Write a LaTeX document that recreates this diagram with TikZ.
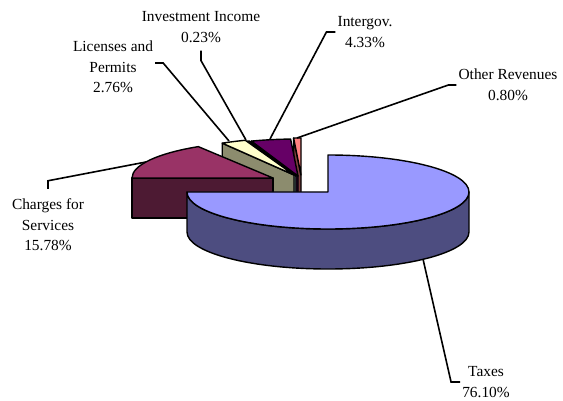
\documentclass[tikz,border=0pt]{standalone}
\usepackage{fontspec}
\setmainfont{Liberation Serif}
\usepackage{tikz}
\usetikzlibrary{calc, positioning}
\definecolor{taxtop}{HTML}{9999FF}
\definecolor{taxside}{HTML}{4D4D80}
\definecolor{chgtop}{HTML}{993366}
\definecolor{chgside}{HTML}{4D1A33}
\definecolor{lictop}{HTML}{FFFFCC}
\definecolor{licside}{HTML}{8C8C6E}
\definecolor{invtop}{HTML}{CCFFFF}
\definecolor{invside}{HTML}{668080}
\definecolor{igvtop}{HTML}{660066}
\definecolor{igvside}{HTML}{330033}
\definecolor{othtop}{HTML}{FF8080}
\definecolor{othside}{HTML}{804040}
\tikzset{
	lbl/.style={align=center, inner sep=2pt, font=\fontsize{15.4}{20.5}\selectfont},
	face/.style={line width=1.4pt, line join=round},
	leader/.style={line width=1.6pt}
}

\begin{document}
\begin{tikzpicture}[x=1pt,y=-1pt]
		\useasboundingbox (0,0) rectangle (563,401);
		
		\coordinate(othc) at (301,175);
		\coordinate(igvc) at (298,176);
		\coordinate(invc) at (296,176);
		\coordinate(licc) at (294,175);
		\coordinate(chgc) at (273,178);
		\coordinate(taxc) at (328,192);
		
		% back slices first
		\filldraw[face, fill=othside] (othc) -- ($(othc)+(267:141 and 37)$) -- ++(0,40) -- ($(othc)+(0,40)$) -- cycle;
		\filldraw[face, fill=othtop] (othc) -- ($(othc)+(267:141 and 37)$) arc[start angle=267, end angle=270, x radius=141, y radius=37] -- cycle;
		
		\filldraw[face, fill=igvside] (igvc) -- ($(igvc)+(250.7:141 and 37)$) -- ++(0,40) -- ($(igvc)+(0,40)$) -- cycle;
		\filldraw[face, fill=igvtop] (igvc) -- ($(igvc)+(250.7:141 and 37)$) arc[start angle=250.7, end angle=267, x radius=141, y radius=37] -- cycle;
		
		\filldraw[face, fill=invside] (invc) -- ($(invc)+(249.8:141 and 37)$) -- ++(0,40) -- ($(invc)+(0,40)$) -- cycle;
		\filldraw[face, fill=invtop] (invc) -- ($(invc)+(249.8:141 and 37)$) arc[start angle=249.8, end angle=250.7, x radius=141, y radius=37] -- cycle;
		
		\filldraw[face, fill=licside] (licc) -- ($(licc)+(239.4:141 and 37)$) -- ++(0,40) -- ($(licc)+(0,40)$) -- cycle;
		\filldraw[face, fill=lictop] (licc) -- ($(licc)+(239.4:141 and 37)$) arc[start angle=239.4, end angle=249.8, x radius=141, y radius=37] -- cycle;
		
		\filldraw[face, fill=chgside] (chgc) -- ($(chgc)+(180:141 and 37)$) -- ++(0,40) -- ($(chgc)+(0,40)$) -- cycle;
		\filldraw[face, fill=chgtop] (chgc) -- ($(chgc)+(180:141 and 37)$) arc[start angle=180, end angle=238, x radius=141, y radius=37] -- cycle;
		
		% taxes in front
		\filldraw[face, fill=taxside] ($(taxc)+(180:141 and 37)$) -- ++(0,40) arc[start angle=180, end angle=0, x radius=141, y radius=37] -- ++(0,-40) arc[start angle=0, end angle=180, x radius=141, y radius=37] -- cycle;
		\filldraw[face, fill=taxtop] (taxc) -- ++(0,-37) arc[start angle=270, end angle=540, x radius=141, y radius=37] -- cycle;
		
		% labels
		\node(taxes) [lbl] at (486,382) {Taxes\\76.10\%};
		\node(chg) [lbl] at (48,225) {Charges for\\Services\\15.78\%};
		\node(lic) [lbl] at (113,67) {Licenses and\\Permits\\2.76\%};
		\node(inv) [lbl] at (201,27) {Investment Income\\0.23\%};
		\node(igv) [lbl] at (365,32) {Intergov.\\4.33\%};
		\node(oth) [lbl] at (508,85) {Other Revenues\\0.80\%};
		
		\coordinate(taxend) at (423,259);
		\coordinate(chgend) at (146,162);
		\coordinate(licend) at (229,141);
		\coordinate(invend) at (246,140);
		\coordinate(igvend) at (270,139);
		\coordinate(othend) at (297,138);
		
		\draw[leader] (taxes.west) -- ++(-9,0) -- (taxend);
		\draw[leader] ([yshift=8pt]chg.north) -- ++(0,-8) -- (chgend);
		\draw[leader] ([yshift=4pt]lic.east) -- ++(8,0) -- (licend);
		\draw[leader] ([yshift=-6pt]inv.south) -- ++(0,10) -- (invend);
		\draw[leader] (igv.west) -- ++(-9,0) -- (igvend);
		\draw[leader] (oth.west) -- ++(-8,0) -- (othend);
		
\end{tikzpicture}
\end{document}
